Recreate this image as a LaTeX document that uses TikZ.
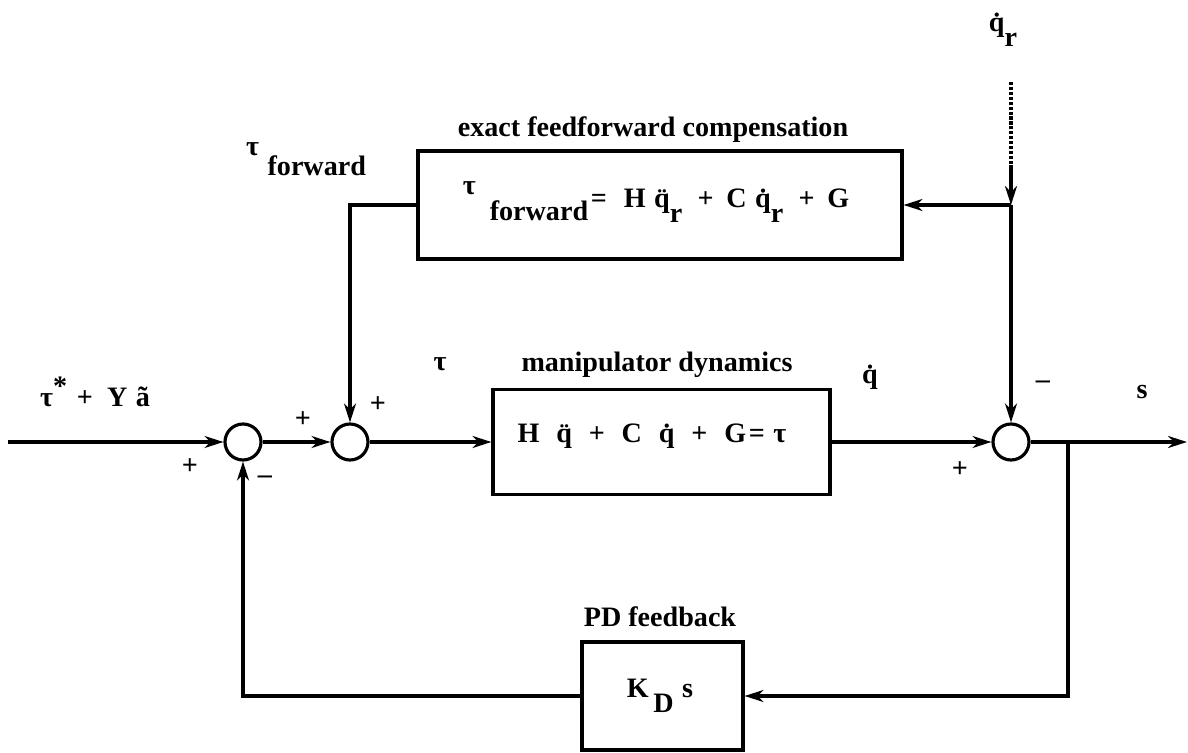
\documentclass[tikz,border=0pt]{standalone}
\usepackage{fontspec}
\setmainfont{Liberation Serif}
\usetikzlibrary{arrows.meta}

\newcommand{\gp}{\hspace{0.6em}}
\newcommand{\lowr}[1]{\raisebox{-0.3cm}{#1}}

\begin{document}
\begin{tikzpicture}[x=0.02cm, y=-0.02cm, >={Stealth[length=0.38cm,width=0.24cm]},
                    every node/.style={font=\fontsize{16}{19}\selectfont\bfseries},
                    block/.style={draw, line width=1.8pt, inner sep=0pt},
                    sumnode/.style={draw, circle, line width=1.8pt, minimum size=0.72cm, inner sep=0pt},
                    sig/.style={line width=1.8pt},
                    sgn/.style={inner sep=1pt}]

  \useasboundingbox (0,0) rectangle (1188,753);

  %% the three blocks
  \node[block, minimum width=9.68cm, minimum height=2.16cm] (ffw) at (660,205) {};
  \node[block, minimum width=6.74cm, minimum height=2.1cm] (dyn) at (661.5,442) {};
  \node[block, minimum width=3.22cm, minimum height=2.16cm] (pd) at (662.5,696) {};

  %% block titles
  \node (lblff) at (653,130) {exact feedforward compensation};
  \node (lbldyn) at (657,365) {manipulator dynamics};
  \node (lblpd) at (660,617) {PD feedback};

  %% block contents
  \node[anchor=base] (ffweq) at (656,208)
    {\raisebox{0.28cm}{τ}\hspace{0.5em}\raisebox{-0.25cm}{forward}\hspace{0.1em}=\hspace{0.6em}H\hspace{0.3em}\"{q}\lowr{r}\hspace{0.55em}+\hspace{0.45em}C\hspace{0.3em}\.{q}\lowr{r}\hspace{0.55em}+\hspace{0.45em}G};
  \node[anchor=base] (dyneq) at (652,443)
    {H\gp\"{q}\gp+\gp C\gp\.{q}\gp+\gp G\hspace{0.1em}=\hspace{0.3em}τ};
  \node[anchor=base] (pdeq) at (660,697)
    {K\,\raisebox{-0.32cm}{D}\hspace{0.3em}s};

  %% summing junctions
  \node[sumnode] (sumA) at (243,442) {};
  \node[sumnode] (sumB) at (350,442) {};
  \node[sumnode] (sumC) at (1011,442) {};

  %% free ends and branch points
  \coordinate (inp) at (8,442);
  \coordinate (outp) at (1187,442);
  \coordinate (brk) at (1068,442);
  \coordinate (qrtop) at (1011,82);
  \coordinate (qrmid) at (1011,165);
  \coordinate (split) at (1011,205);

  %% forward path
  \draw[sig, ->] (inp) -- (sumA);
  \draw[sig, ->] (sumA) -- (sumB);
  \draw[sig, ->] (sumB) -- (dyn);
  \draw[sig, ->] (dyn) -- (sumC);
  \draw[sig, ->] (sumC) -- (outp);

  %% desired velocity input, dotted then solid
  \draw[sig, densely dotted] (qrtop) -- (qrmid);
  \draw[sig, ->] (qrmid) -- (split);
  \draw[sig, ->] (split) -- (ffw.east);
  \draw[sig, ->] (split) -- (sumC.north);

  %% feedforward torque into second junction
  \draw[sig, ->] (ffw.west) -| (sumB.north);

  %% PD feedback loop
  \draw[sig, ->] (brk) |- (pd.east);
  \draw[sig, ->] (pd.west) -| (sumA.south);

  %% signal labels
  \node (lblin) at (95,392) {τ\raisebox{0.22cm}{*}\hspace{0.35em}+\hspace{0.5em}Y\hspace{0.3em}\~{a}};
  \node[anchor=base west] (lbltf) at (240,176) {\raisebox{0.42cm}{τ}\hspace{0.3em}forward};
  \node (lbltau) at (440,364) {τ};
  \node (lblqd) at (870,377) {\.{q}};
  \node (lblqr) at (1003,30) {\.{q}\lowr{r}};
  \node (lbls) at (1142,392) {s};

  %% signs at the junctions
  \node[sgn] (pA1) at (190,467) {+};
  \node[sgn] (mA2) at (265,480) {–};
  \node[sgn] (pB1) at (303,420) {+};
  \node[sgn] (pB2) at (378,405) {+};
  \node[sgn] (pC1) at (960,470) {+};
  \node[sgn] (mC2) at (1043,385) {–};

\end{tikzpicture}
\end{document}
